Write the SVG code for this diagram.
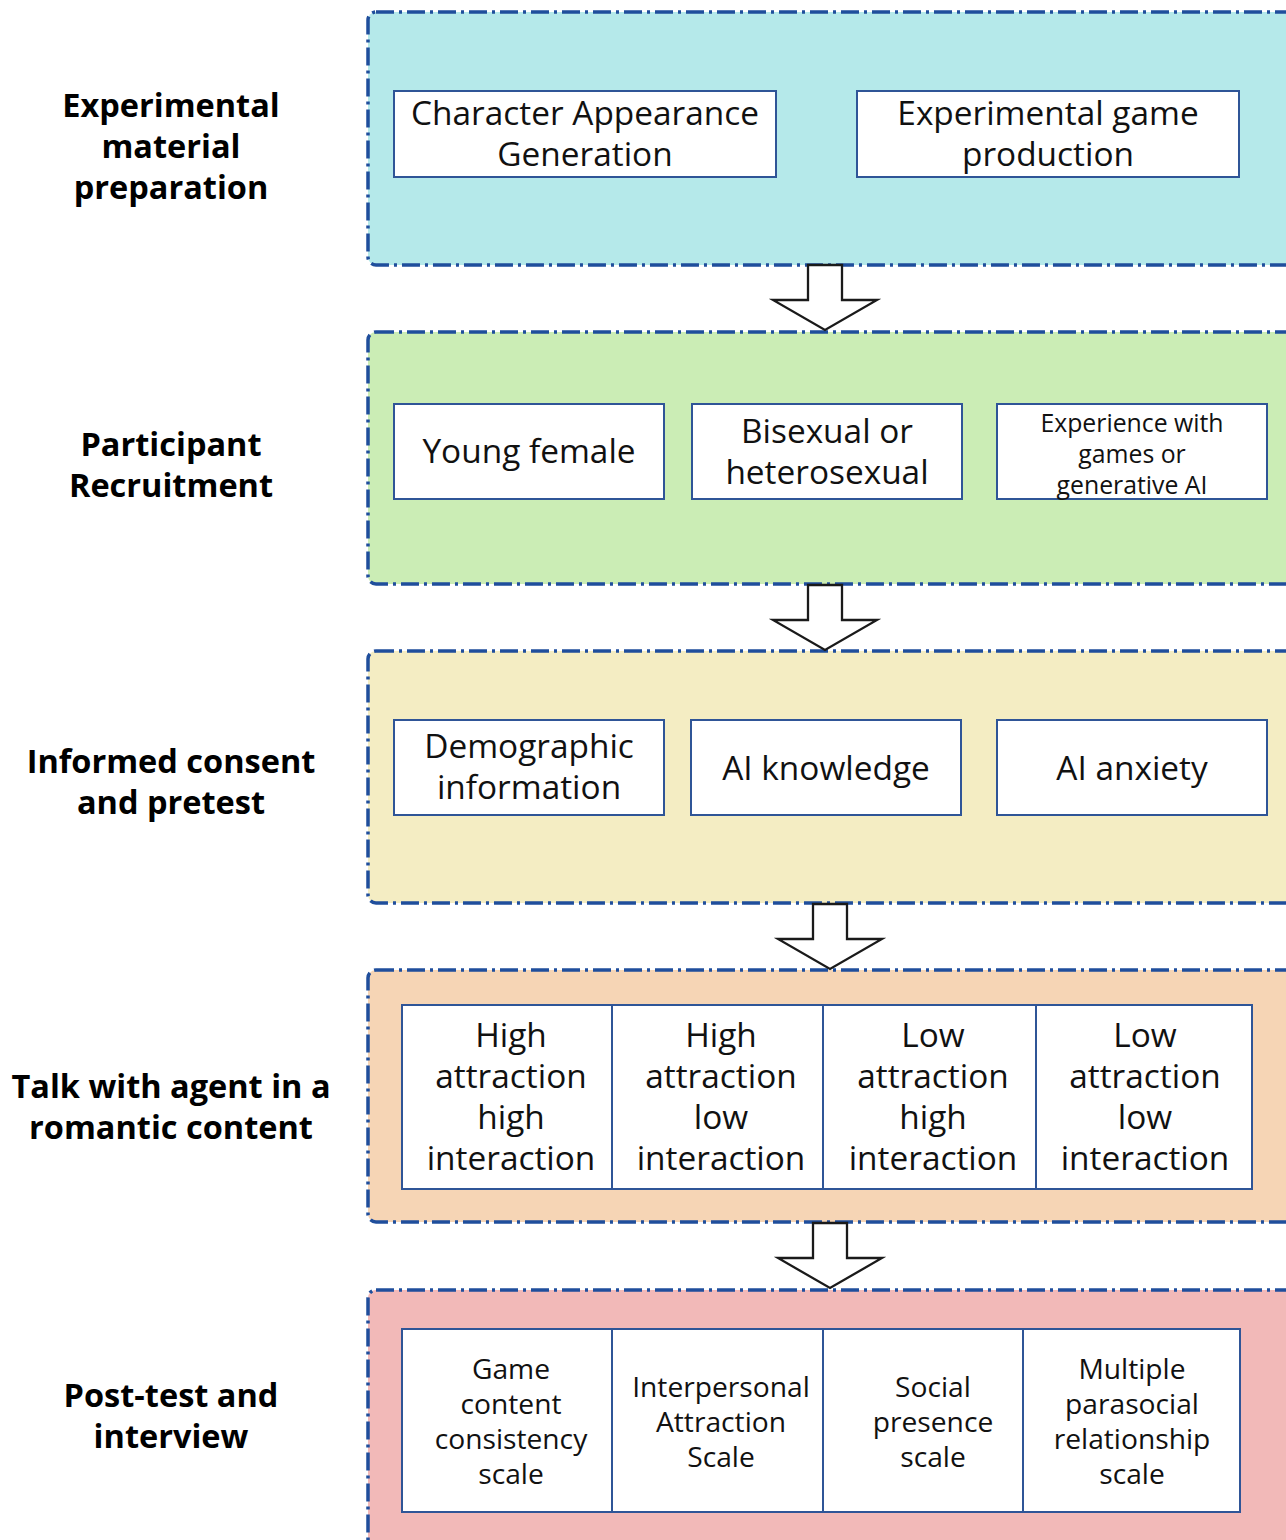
<svg xmlns="http://www.w3.org/2000/svg" width="1286" height="1540" viewBox="0 0 1286 1540">
<style>
.panel{stroke:#1f4e9c;stroke-width:3.5;stroke-dasharray:18 5 3 5;}
.box{fill:#fff;stroke:#2f5597;stroke-width:2;}
.t{font-family:"Open Sans","Noto Sans",sans-serif;font-size:33.4px;fill:#111;text-anchor:middle;}
.s{font-size:28.2px;}
.xs{font-size:24.8px;}
.lab{font-family:"Open Sans","Noto Sans",sans-serif;font-size:32.5px;font-weight:bold;fill:#000;text-anchor:middle;}
.arr{fill:#fff;stroke:#1a1a1a;stroke-width:2.3;stroke-linejoin:miter;}
</style>
<rect width="1286" height="1540" fill="#fff"/>
<g id="stage1">
<rect class="panel" x="368" y="12" width="930" height="253" rx="8" fill="#b5e9ea"/>
<text class="lab" x="171" y="117">Experimental<tspan x="171" dy="41">material</tspan><tspan x="171" dy="41">preparation</tspan></text>
</g>
<g id="n-char">
<rect class="box" x="394" y="91" width="382" height="86"/>
<text class="t" x="585" y="125">Character Appearance<tspan x="585" dy="41">Generation</tspan></text>
</g>
<g id="n-game">
<rect class="box" x="857" y="91" width="382" height="86"/>
<text class="t" x="1048" y="125">Experimental game<tspan x="1048" dy="41">production</tspan></text>
</g>
<g id="stage2">
<rect class="panel" x="368" y="332" width="930" height="252" rx="8" fill="#cbedb5"/>
<text class="lab" x="171" y="456">Participant<tspan x="171" dy="41">Recruitment</tspan></text>
</g>
<g id="n-young">
<rect class="box" x="394" y="404" width="270" height="95"/>
<text class="t" x="529" y="463">Young female</text>
</g>
<g id="n-bisexual">
<rect class="box" x="692" y="404" width="270" height="95"/>
<text class="t" x="827" y="443">Bisexual or<tspan x="827" dy="41">heterosexual</tspan></text>
</g>
<g id="n-exp">
<rect class="box" x="997" y="404" width="270" height="95"/>
<text class="t xs" x="1132" y="432">Experience with<tspan x="1132" dy="31">games or</tspan><tspan x="1132" dy="31">generative AI</tspan></text>
</g>
<g id="stage3">
<rect class="panel" x="368" y="651" width="930" height="252" rx="8" fill="#f4edc3"/>
<text class="lab" x="171" y="773">Informed consent<tspan x="171" dy="41">and pretest</tspan></text>
</g>
<g id="n-demo">
<rect class="box" x="394" y="720" width="270" height="95"/>
<text class="t" x="529" y="758">Demographic<tspan x="529" dy="41">information</tspan></text>
</g>
<g id="n-aik">
<rect class="box" x="691" y="720" width="270" height="95"/>
<text class="t" x="826" y="780">AI knowledge</text>
</g>
<g id="n-aia">
<rect class="box" x="997" y="720" width="270" height="95"/>
<text class="t" x="1132" y="780">AI anxiety</text>
</g>
<g id="stage4">
<rect class="panel" x="368" y="970" width="930" height="252" rx="8" fill="#f6d5b5"/>
<text class="lab" x="171" y="1098">Talk with agent in a<tspan x="171" dy="41">romantic content</tspan></text>
</g>
<g id="n-hh">
<rect class="box" x="402" y="1005" width="210" height="184"/>
<text class="t" x="511" y="1047">High<tspan x="511" dy="41">attraction</tspan><tspan x="511" dy="41">high</tspan><tspan x="511" dy="41">interaction</tspan></text>
</g>
<g id="n-hl">
<rect class="box" x="612" y="1005" width="211" height="184"/>
<text class="t" x="721" y="1047">High<tspan x="721" dy="41">attraction</tspan><tspan x="721" dy="41">low</tspan><tspan x="721" dy="41">interaction</tspan></text>
</g>
<g id="n-lh">
<rect class="box" x="823" y="1005" width="213" height="184"/>
<text class="t" x="933" y="1047">Low<tspan x="933" dy="41">attraction</tspan><tspan x="933" dy="41">high</tspan><tspan x="933" dy="41">interaction</tspan></text>
</g>
<g id="n-ll">
<rect class="box" x="1036" y="1005" width="216" height="184"/>
<text class="t" x="1145" y="1047">Low<tspan x="1145" dy="41">attraction</tspan><tspan x="1145" dy="41">low</tspan><tspan x="1145" dy="41">interaction</tspan></text>
</g>
<g id="stage5">
<rect class="panel" x="368" y="1290" width="930" height="270" rx="8" fill="#f2b9b8"/>
<text class="lab" x="171" y="1407">Post-test and<tspan x="171" dy="41">interview</tspan></text>
</g>
<g id="n-gccs">
<rect class="box" x="402" y="1329" width="210" height="183"/>
<text class="t s" x="511" y="1379">Game<tspan x="511" dy="35">content</tspan><tspan x="511" dy="35">consistency</tspan><tspan x="511" dy="35">scale</tspan></text>
</g>
<g id="n-ias">
<rect class="box" x="612" y="1329" width="211" height="183"/>
<text class="t s" x="721" y="1397">Interpersonal<tspan x="721" dy="35">Attraction</tspan><tspan x="721" dy="35">Scale</tspan></text>
</g>
<g id="n-sps">
<rect class="box" x="823" y="1329" width="200" height="183"/>
<text class="t s" x="933" y="1397">Social<tspan x="933" dy="35">presence</tspan><tspan x="933" dy="35">scale</tspan></text>
</g>
<g id="n-mprs">
<rect class="box" x="1023" y="1329" width="217" height="183"/>
<text class="t s" x="1132" y="1379">Multiple<tspan x="1132" dy="35">parasocial</tspan><tspan x="1132" dy="35">relationship</tspan><tspan x="1132" dy="35">scale</tspan></text>
</g>
<g id="connectors">
<polygon class="arr" points="808,265 842,265 842,300 877,300 825,330 773,300 808,300"/>
<polygon class="arr" points="808,585 842,585 842,620 877,620 825,650 773,620 808,620"/>
<polygon class="arr" points="813,904 847,904 847,939 882,939 830,969 778,939 813,939"/>
<polygon class="arr" points="813,1223 847,1223 847,1258 882,1258 830,1288 778,1258 813,1258"/>
</g>
</svg>
